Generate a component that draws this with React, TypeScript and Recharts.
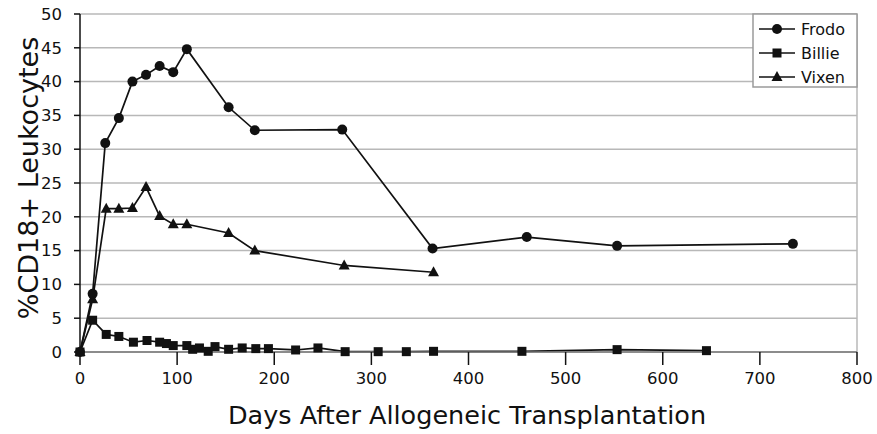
import React from "react";
import { LineChart, Line, XAxis, YAxis, CartesianGrid, ReferenceLine, Label } from "recharts";

const xTicks = [0, 100, 200, 300, 400, 500, 600, 700, 800];
const yTicks = [0, 5, 10, 15, 20, 25, 30, 35, 40, 45, 50];

const frodoDays = [0, 13, 26, 40, 54, 68, 82, 96, 110, 153, 180, 270, 363, 460, 553, 734];
const frodoVals = [0, 8.6, 30.9, 34.6, 40.0, 41.0, 42.3, 41.4, 44.8, 36.2, 32.8, 32.9, 15.3, 17.0, 15.7, 16.0];

const billieDays = [0, 13, 27, 40, 55, 69, 82, 89, 96, 110, 116, 123, 132, 139, 153, 167, 181, 194, 222, 245, 273, 307, 336, 364, 455, 553, 645];
const billieVals = [0, 4.7, 2.6, 2.3, 1.45, 1.7, 1.45, 1.25, 0.95, 0.95, 0.4, 0.6, 0.1, 0.8, 0.4, 0.6, 0.5, 0.5, 0.3, 0.6, 0.05, 0.05, 0.05, 0.1, 0.1, 0.35, 0.2];

const vixenDays = [0, 13, 27, 40, 54, 68, 82, 96, 110, 153, 180, 272, 364];
const vixenVals = [0, 7.8, 21.2, 21.2, 21.3, 24.4, 20.1, 18.9, 18.9, 17.6, 15.0, 12.8, 11.8];

const seriesNames = ["Frodo", "Billie", "Vixen"];

const toData = (days: number[], vals: number[]) => days.map((d, i) => ({ x: d, y: vals[i] }));
const frodoData = toData(frodoDays, frodoVals);
const billieData = toData(billieDays, billieVals);
const vixenData = toData(vixenDays, vixenVals);

const FONT = "'DejaVu Sans', Verdana, sans-serif";
const INK = "#111";

const CircleMark = ({ cx, cy }: any) => <circle cx={cx} cy={cy} r={5} fill={INK} />;
const SquareMark = ({ cx, cy }: any) => <rect x={cx - 4.5} y={cy - 4.5} width={9} height={9} fill={INK} />;
const TriMark = ({ cx, cy }: any) => (
  <polygon points={`${cx},${cy - 6} ${cx + 5.5},${cy + 4} ${cx - 5.5},${cy + 4}`} fill={INK} />
);

const markers = [CircleMark, SquareMark, TriMark];

const dotFn = (M: any) => (props: any) => {
  if (props.cx == null || props.cy == null) return <g key={props.index} />;
  return <M key={`d${props.index}`} cx={props.cx} cy={props.cy} />;
};

const LegendBox = () => (
  <svg width={106} height={76} style={{ position: "absolute", left: 752, top: 13 }}>
    <rect x={1} y={1} width={104} height={73} fill="#fff" stroke="#9a9a9a" strokeWidth={1.5} />
    {seriesNames.map((n, i) => {
      const y = 16 + i * 24;
      const M = markers[i];
      return (
        <g key={n}>
          <line x1={7} x2={43} y1={y} y2={y} stroke={INK} strokeWidth={1.6} />
          <M cx={25} cy={y} />
          <text x={49} y={y} dominantBaseline="central" fontFamily={FONT} fontSize={16} fill={INK}>
            {n}
          </text>
        </g>
      );
    })}
  </svg>
);

export default function App() {
  return (
    <div style={{ position: "absolute", left: 0, top: 0, width: 877, height: 434, background: "#fff" }}>
      <LineChart width={877} height={434} margin={{ top: 14, right: 20, bottom: 0, left: 0 }}>
        <CartesianGrid vertical={false} stroke="#b8b8b8" strokeWidth={1.5} />
        <XAxis
          type="number"
          dataKey="x"
          domain={[0, 800]}
          ticks={xTicks}
          interval={0}
          tickSize={13}
          tickMargin={7}
          axisLine={{ stroke: "#777", strokeWidth: 1.5 }}
          tickLine={{ stroke: INK, strokeWidth: 1.5 }}
          tick={{ fontFamily: FONT, fontSize: 16.5, fill: INK }}
          height={82}
        >
          <Label
            content={() => (
              <text x={467} y={415} textAnchor="middle" dominantBaseline="central" fontFamily={FONT} fontSize={25.5} fill={INK}>
                Days After Allogeneic Transplantation
              </text>
            )}
          />
        </XAxis>
        <YAxis
          type="number"
          domain={[0, 50]}
          ticks={yTicks}
          interval={0}
          width={80}
          tickSize={6}
          tickMargin={12}
          axisLine={{ stroke: INK, strokeWidth: 1.5 }}
          tickLine={{ stroke: INK, strokeWidth: 1.5 }}
          tick={{ fontFamily: FONT, fontSize: 16.5, fill: INK }}
        >
          <Label
            content={() => (
              <text
                x={28}
                y={178}
                transform="rotate(-90 28 178)"
                textAnchor="middle"
                dominantBaseline="central"
                fontFamily={FONT}
                fontSize={27}
                fill={INK}
              >
                %CD18+ Leukocytes
              </text>
            )}
          />
        </YAxis>
        <ReferenceLine x={800} stroke="#b8b8b8" strokeWidth={1.5} />
        <Line data={billieData} dataKey="y" name="Billie" stroke={INK} strokeWidth={1.7} dot={dotFn(SquareMark)} isAnimationActive={false} />
        <Line data={vixenData} dataKey="y" name="Vixen" stroke={INK} strokeWidth={1.7} dot={dotFn(TriMark)} isAnimationActive={false} />
        <Line data={frodoData} dataKey="y" name="Frodo" stroke={INK} strokeWidth={1.7} dot={dotFn(CircleMark)} isAnimationActive={false} />
      </LineChart>
      <LegendBox />
    </div>
  );
}
